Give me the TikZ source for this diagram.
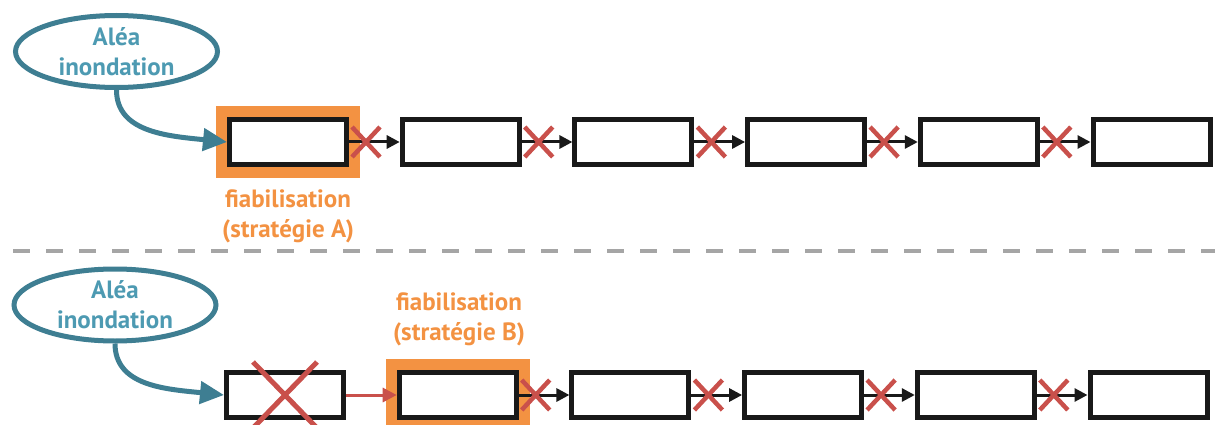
\documentclass[tikz,border=0pt]{standalone}
\usepackage{fontspec}
\setmainfont{PT Sans}
\usetikzlibrary{arrows.meta,shapes.geometric,calc}
\definecolor{tealline}{RGB}{62,126,146}
\definecolor{tealtext}{RGB}{77,154,178}
\definecolor{orangeC}{RGB}{243,146,66}
\definecolor{redX}{RGB}{201,80,75}
\definecolor{grayD}{RGB}{165,165,165}
\definecolor{boxblack}{RGB}{25,25,25}
\begin{document}
\begin{tikzpicture}[x=1pt,y=-1pt,
  chainbox/.style={draw=boxblack, fill=white, line width=5pt, minimum width=117pt, minimum height=45pt, inner sep=0pt},
  hazard/.style={ellipse, draw=tealline, line width=5pt, minimum width=202pt, minimum height=72pt, inner sep=0pt, text=tealtext, font=\bfseries\fontsize{25}{30}\selectfont, align=center},
  hazardarrow/.style={draw=tealline, line width=5pt, -{Triangle[length=24pt,width=22pt]}},
  link/.style={draw=boxblack, line width=3pt, -{Triangle[length=13pt,width=13pt]}},
  redlink/.style={draw=redX, line width=3pt, -{Triangle[length=14pt,width=14pt]}},
  xmark/.style={draw=redX, line width=4.5pt},
  bigx/.style={draw=redX, line width=5pt},
  fiablabel/.style={text=orangeC, font=\bfseries\fontsize{25}{30}\selectfont, align=center, inner sep=0pt},
  highlight/.style={fill=orangeC},
  separator/.style={draw=grayD, line width=3.5pt, dash pattern=on 17pt off 16pt}
]
\useasboundingbox (0,0) rectangle (1215,425);

% separator
\coordinate (sepL) at (-20,251);
\coordinate (sepR) at (1215,251);
\draw[separator] (sepL) -- (sepR);

% ---------- top row ----------
\fill[highlight] (216,106) rectangle (360,178);
\foreach \i in {1,...,6}
  \node[chainbox] (a\i) at ({288+172.7*(\i-1)},142) {};
\foreach \i/\j in {1/2,2/3,3/4,4/5,5/6}{
  \draw[link] (a\i.east) -- (a\j.west);
  \draw[xmark] ($(a\i.east)+(17,0)$) ++(-14,-15) -- ++(28,30) ++(0,-30) -- ++(-28,30);
}
\node[fiablabel] (la) at (288,216) {fiabilisation\\(stratégie A)};
\node[hazard] (h1) at (116.5,51.5) {Aléa\\inondation};
\draw[hazardarrow] (h1.south) .. controls +(0,42) and +(-60,-6) .. (a1.west);

% ---------- bottom row ----------
\fill[highlight] (386,359) rectangle (530,431);
\foreach \i in {1,...,6}
  \node[chainbox] (b\i) at ({285+172.7*(\i-1)},395) {};
\draw[redlink] (b1.east) -- (b2.west);
\foreach \i/\j in {2/3,3/4,4/5,5/6}{
  \draw[link] (b\i.east) -- (b\j.west);
  \draw[xmark] ($(b\i.east)+(17,0)$) ++(-14,-15) -- ++(28,30) ++(0,-30) -- ++(-28,30);
}
\draw[bigx] ($(b1.center)+(-32,-33)$) -- ($(b1.center)+(32,33)$);
\draw[bigx] ($(b1.center)+(32,-33)$) -- ($(b1.center)+(-32,33)$);
\node[fiablabel] (lb) at (459,319) {fiabilisation\\(stratégie B)};
\node[hazard] (h2) at (115,305) {Aléa\\inondation};
\draw[hazardarrow] (h2.south) .. controls +(0,42) and +(-60,-6) .. (b1.west);
\end{tikzpicture}
\end{document}
